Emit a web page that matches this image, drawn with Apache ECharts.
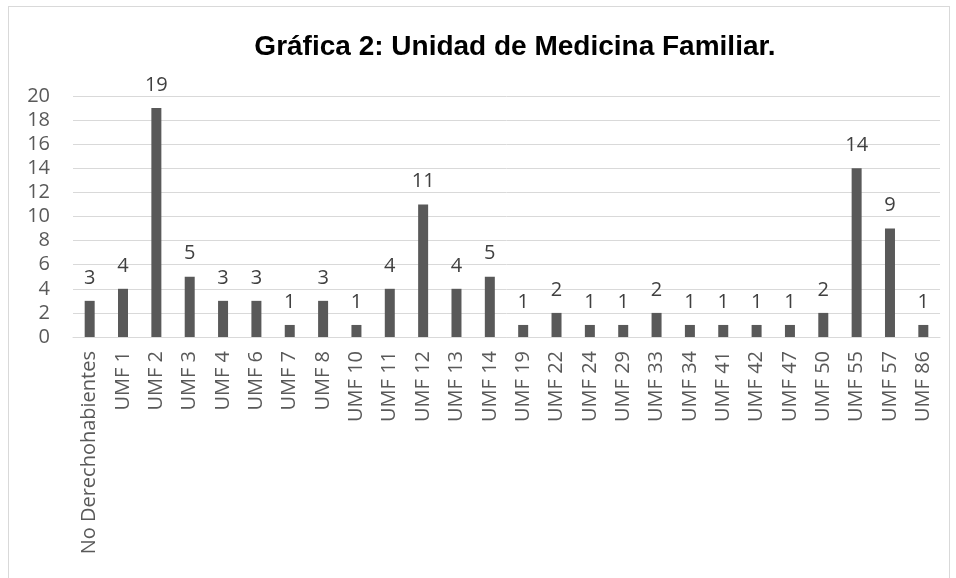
<!DOCTYPE html>
<html>
<head>
<meta charset="utf-8">
<script src="https://cdn.jsdelivr.net/npm/echarts@6/dist/echarts.min.js"></script>
<style>
  html, body { margin: 0; padding: 0; background: #fff; }
  #frame { position: absolute; left: 8px; top: 6px; width: 942px; height: 580px; border: 1px solid #d9d9d9; box-sizing: border-box; }
  #chart { position: absolute; left: 0; top: 0; width: 956px; height: 578px; }
</style>
</head>
<body>
<div id="frame"></div>
<div id="chart"></div>
<script>
const categories = ['No Derechohabientes', 'UMF 1', 'UMF 2', 'UMF 3', 'UMF 4', 'UMF 6', 'UMF 7', 'UMF 8',
  'UMF 10', 'UMF 11', 'UMF 12', 'UMF 13', 'UMF 14', 'UMF 19', 'UMF 22', 'UMF 24', 'UMF 29', 'UMF 33',
  'UMF 34', 'UMF 41', 'UMF 42', 'UMF 47', 'UMF 50', 'UMF 55', 'UMF 57', 'UMF 86']
const values = [3, 4, 19, 5, 3, 3, 1, 3, 1, 4, 11, 4, 5, 1, 2, 1, 1, 2, 1, 1, 1, 1, 2, 14, 9, 1]

const font = '"Open Sans", sans-serif'
const chart = echarts.init(document.getElementById('chart'))
chart.setOption({
  animation: false,
  title: {
    text: 'Gráfica 2: Unidad de Medicina Familiar.',
    left: 510,
    top: 28,
    textAlign: 'center',
    textStyle: { fontFamily: 'Liberation Sans, Arial, sans-serif', fontWeight: 'bold', fontSize: 28, color: '#000' },
  },
  grid: { left: 73, right: 16, top: 96, bottom: 241 },
  xAxis: {
    type: 'category',
    data: categories,
    axisLine: { lineStyle: { color: '#d9d9d9', width: 1 } },
    axisTick: { show: false },
    axisLabel: { rotate: 90, interval: 0, fontFamily: font, fontSize: 20, color: '#595959', margin: 14 },
  },
  yAxis: {
    type: 'value',
    min: 0,
    max: 20,
    interval: 2,
    axisLine: { show: false },
    axisTick: { show: false },
    splitLine: { lineStyle: { color: '#d9d9d9', width: 1 } },
    axisLabel: { fontFamily: font, fontSize: 20, color: '#595959', margin: 23 },
  },
  series: [{
    type: 'bar',
    data: values,
    barWidth: 10,
    itemStyle: { color: '#595959' },
    label: { show: true, position: 'top', distance: 13, fontFamily: font, fontSize: 20, color: '#404040' },
  }],
})
</script>
</body>
</html>
